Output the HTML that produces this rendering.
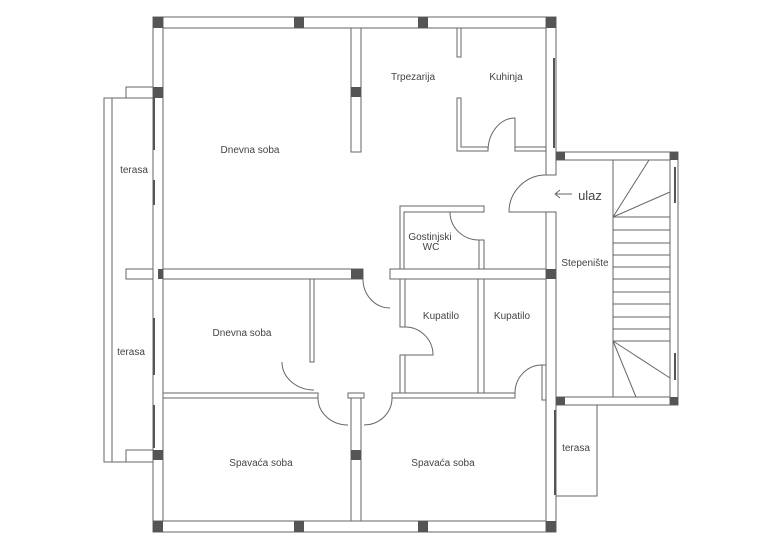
<!DOCTYPE html>
<html><head><style>body{margin:0;background:#fff}svg{display:block}text{font-family:"Liberation Sans",sans-serif;font-size:10px;fill:#444;text-anchor:middle}</style></head><body>
<svg width="768" height="548" viewBox="0 0 768 548" xmlns="http://www.w3.org/2000/svg">
<g fill="#fff" stroke="#666" stroke-width="1">
<!-- terraces left -->
<rect x="104" y="98" width="49" height="364"/>
<line x1="112" y1="98" x2="112" y2="462"/>
<rect x="126" y="87" width="27" height="11"/>
<rect x="126" y="450" width="27" height="12"/>
<rect x="126" y="269" width="27" height="10"/>
<!-- outer walls -->
<rect x="153" y="17" width="403" height="11"/>
<rect x="153" y="17" width="10" height="515"/>
<rect x="153" y="521" width="403" height="11"/>
<rect x="546" y="17" width="10" height="158"/>
<rect x="546" y="212" width="10" height="320"/>
<!-- interior -->
<rect x="351" y="28" width="10" height="124"/>
<rect x="163" y="269" width="200" height="10"/>
<rect x="390" y="269" width="156" height="10"/>
<rect x="457" y="28" width="4" height="29"/>
<path d="M457 98 V151 H488 V147 H461 V98 Z"/>
<path d="M515 147 H546 V151 H515 Z"/>
<path d="M400 206 H484 V212 H404 V269 H400 Z"/>
<rect x="479" y="240" width="5" height="29"/>
<rect x="310" y="279" width="4" height="83"/>
<rect x="163" y="393" width="155" height="5"/>
<rect x="392" y="393" width="123" height="5"/>
<rect x="348" y="393" width="16" height="5"/>
<rect x="351" y="398" width="10" height="123"/>
<rect x="400" y="279" width="5" height="48"/>
<rect x="400" y="355" width="5" height="38"/>
<rect x="478" y="279" width="6" height="114"/>
<rect x="542" y="365" width="4" height="35"/>
<!-- stairs -->
<rect x="556" y="152" width="122" height="8"/>
<rect x="556" y="397" width="122" height="8"/>
<rect x="670" y="152" width="8" height="253"/>
<line x1="613" y1="160" x2="613" y2="397"/>
<rect x="556" y="405" width="41" height="91"/>
</g>
<g stroke="#666" fill="none" stroke-width="1">
<line x1="613" y1="217" x2="649" y2="160"/><line x1="613" y1="217" x2="670" y2="192"/>
<line x1="613" y1="341" x2="670" y2="378"/><line x1="613" y1="341" x2="636" y2="397"/>
<path d="M613 230H670M613 243H670M613 255H670M613 267H670M613 279H670M613 292H670M613 304H670M613 317H670M613 329H670M613 217H670M613 341H670"/>
<!-- doors -->
<path d="M488 151 A27 33 0 0 1 515 118 V147"/>
<path d="M546 175 A37 37 0 0 0 509 212 H546"/>
<path d="M450 212 A29 28 0 0 0 479 240"/>
<path d="M363 279 A27 29 0 0 0 390 308"/>
<path d="M405 327 A28 28 0 0 1 433 355 H405"/>
<path d="M282 362 A32 28 0 0 0 314 390"/>
<path d="M318 398 A30 27 0 0 0 348 425"/>
<path d="M364 425 A28 27 0 0 0 392 398"/>
<path d="M515 393 A27 28 0 0 1 542 365"/>
<path d="M555 194 H572 M555 194 l5 -4 M555 194 l5 4"/>
</g>
<!-- windows -->
<g stroke="#555" stroke-width="2">
<line x1="154" y1="98" x2="154" y2="150"/><line x1="154" y1="180" x2="154" y2="205"/>
<line x1="154" y1="318" x2="154" y2="375"/><line x1="154" y1="405" x2="154" y2="448"/>
<line x1="554" y1="58" x2="554" y2="148"/>
<line x1="675" y1="167" x2="675" y2="203"/><line x1="675" y1="353" x2="675" y2="380"/>
<line x1="555" y1="410" x2="555" y2="495"/>
</g>
<g fill="#555">
<rect x="153" y="17" width="10" height="11"/><rect x="294" y="17" width="10" height="11"/>
<rect x="418" y="17" width="10" height="11"/><rect x="546" y="17" width="10" height="11"/>
<rect x="153" y="87" width="10" height="11"/><rect x="351" y="87" width="10" height="10"/>
<rect x="158" y="269" width="5" height="10"/><rect x="351" y="269" width="12" height="10"/>
<rect x="546" y="269" width="10" height="10"/>
<rect x="556" y="152" width="9" height="8"/><rect x="670" y="152" width="8" height="8"/>
<rect x="556" y="397" width="9" height="8"/><rect x="670" y="397" width="8" height="8"/>
<rect x="153" y="450" width="10" height="10"/><rect x="351" y="450" width="10" height="10"/>
<rect x="153" y="521" width="10" height="11"/><rect x="294" y="521" width="10" height="11"/>
<rect x="418" y="521" width="10" height="11"/><rect x="546" y="521" width="10" height="11"/>
</g>
<text x="250" y="153">Dnevna soba</text>
<text x="413" y="80">Trpezarija</text>
<text x="506" y="80">Kuhinja</text>
<text x="134" y="173">terasa</text>
<text x="131" y="355">terasa</text>
<text x="590" y="200" style="font-size:13px">ulaz</text>
<text x="430" y="240">Gostinjski</text>
<text x="431" y="250">WC</text>
<text x="585" y="266">Stepenište</text>
<text x="441" y="319">Kupatilo</text>
<text x="512" y="319">Kupatilo</text>
<text x="242" y="336">Dnevna soba</text>
<text x="261" y="466">Spavaća soba</text>
<text x="443" y="466">Spavaća soba</text>
<text x="576" y="451">terasa</text>
</svg>
</body></html>
